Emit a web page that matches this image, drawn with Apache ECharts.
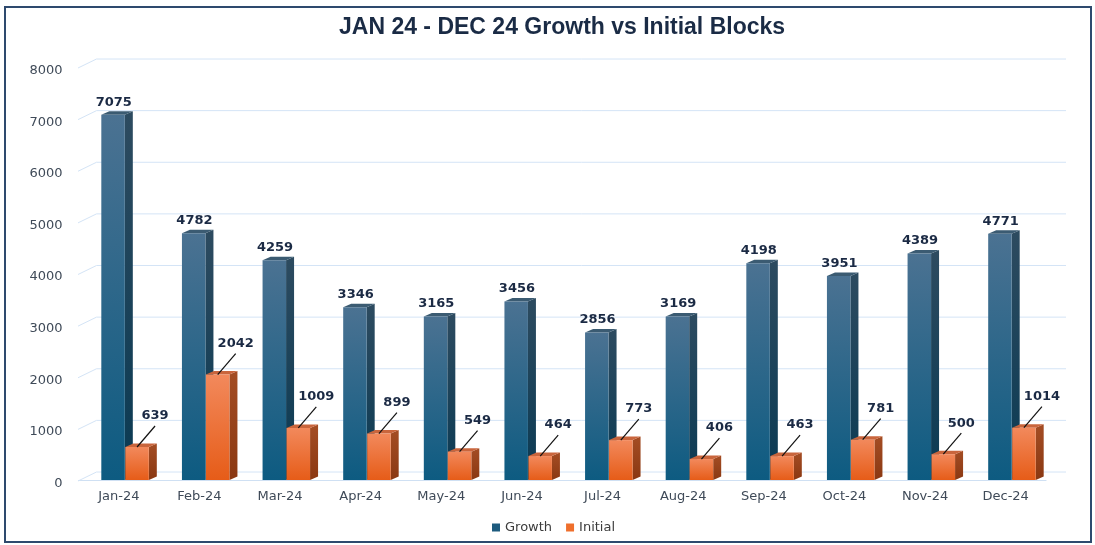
<!DOCTYPE html>
<html>
<head>
<meta charset="utf-8">
<script src="https://cdn.jsdelivr.net/npm/echarts@6/dist/echarts.min.js"></script>
<style>
  html, body { margin: 0; padding: 0; background: #fff; }
  #chart { width: 1095px; height: 545px; }
</style>
</head>
<body>
<div id="chart"></div>
<script>
// values
const months = ['Jan-24', 'Feb-24', 'Mar-24', 'Apr-24', 'May-24', 'Jun-24',
                'Jul-24', 'Aug-24', 'Sep-24', 'Oct-24', 'Nov-24', 'Dec-24'];
const growth = [7075, 4782, 4259, 3346, 3165, 3456, 2856, 3169, 4198, 3951, 4389, 4771];
const initial = [639, 2042, 1009, 899, 549, 464, 773, 406, 463, 781, 500, 1014];
const yTicks = [0, 1000, 2000, 3000, 4000, 5000, 6000, 7000, 8000];

const BAR_W = 23.5;
const DEPTH_X = 8;
const DEPTH_Y = 3.5;

const faces = {
  growth: {
    front: ['#4b7292', '#0d5b81'],
    side: ['#2d4b60', '#0a3a53'],
    top: '#3b5b72'
  },
  initial: {
    front: ['#f2895c', '#e65c18'],
    side: ['#a44d24', '#8a3812'],
    top: '#c9653c'
  }
};

function grad(c) {
  return {
    type: 'linear', x: 0, y: 0, x2: 0, y2: 1,
    colorStops: [{ offset: 0, color: c[0] }, { offset: 1, color: c[1] }]
  };
}

// back wall grid lines with the little slanted bit at the left
function renderGrid(params, api) {
  const cs = params.coordSys;
  const y = api.coord([0, api.value(1)])[1];
  const L = cs.x, R = cs.x + cs.width;
  return {
    type: 'polyline',
    shape: { points: [[L - 0.5, y + 1], [L + 18, y - 8], [R + 20, y - 8]] },
    style: { stroke: '#d4e4f6', lineWidth: 1, fill: null },
    silent: true
  };
}

function makeBar(kind) {
  return function (params, api) {
    const i = api.value(0), v = api.value(1);
    const top = api.coord([i, v]);
    const base = api.coord([i, 0]);
    const cx = top[0];
    const x0 = kind === 'growth' ? cx - 17.5 : cx + 6.5;
    const x1 = x0 + BAR_W;
    const yt = top[1], yb = base[1];
    const f = faces[kind];
    const kids = [
      {
        type: 'polygon',
        shape: { points: [[x1, yt], [x1 + DEPTH_X, yt - DEPTH_Y], [x1 + DEPTH_X, yb - DEPTH_Y], [x1, yb]] },
        style: { fill: grad(f.side) }
      },
      {
        type: 'polygon',
        shape: { points: [[x0, yt], [x0 + DEPTH_X, yt - DEPTH_Y], [x1 + DEPTH_X, yt - DEPTH_Y], [x1, yt]] },
        style: { fill: f.top }
      },
      {
        type: 'rect',
        shape: { x: x0, y: yt, width: BAR_W, height: yb - yt },
        style: { fill: grad(f.front) }
      }
    ];
    if (kind === 'growth') {
      kids.push({
        type: 'text',
        style: {
          text: String(v), x: cx - 5, y: yt - 12.5,
          align: 'center', verticalAlign: 'middle',
          font: 'bold 13px "DejaVu Sans"', fill: '#1b2a44'
        }
      });
    } else {
      const sx = x0 + BAR_W / 2;
      kids.push({
        type: 'line',
        shape: { x1: sx, y1: yt, x2: sx + 18, y2: yt - 21 },
        style: { stroke: '#111', lineWidth: 1.2 }
      });
      kids.push({
        type: 'text',
        style: {
          text: String(v), x: sx + 18, y: yt - 31,
          align: 'center', verticalAlign: 'middle',
          font: 'bold 13px "DejaVu Sans"', fill: '#1b2a44'
        }
      });
    }
    return { type: 'group', children: kids };
  };
}

const chart = echarts.init(document.getElementById('chart'));

chart.setOption({
  backgroundColor: '#fff',
  animation: false,
  title: {
    text: 'JAN 24 - DEC 24 Growth vs Initial Blocks',
    left: 334,
    top: 11,
    textStyle: {
      fontFamily: '"Liberation Sans", Arial, sans-serif',
      fontWeight: 'bold',
      fontSize: 23,
      color: '#1a2b45'
    }
  },
  legend: {
    data: ['Growth', 'Initial'],
    left: 487,
    top: 516,
    icon: 'rect',
    itemWidth: 8,
    itemHeight: 8,
    itemGap: 14,
    textStyle: { fontFamily: 'DejaVu Sans', fontSize: 13, color: '#3c3c3c' }
  },
  graphic: [{
    type: 'rect',
    shape: { x: 5, y: 7, width: 1086, height: 535 },
    style: { fill: null, stroke: '#2e4a6e', lineWidth: 2 },
    silent: true
  }],
  grid: { left: 78.5, right: 49, top: 67, bottom: 65 },
  xAxis: {
    type: 'category',
    data: months,
    axisLine: { lineStyle: { color: '#cfe0f3', width: 1.2 } },
    axisTick: { length: 4, lineStyle: { color: '#cfe0f3' } },
    axisLabel: {
      color: '#3f4a58', fontSize: 13, fontFamily: 'DejaVu Sans', margin: 10
    }
  },
  yAxis: {
    type: 'value',
    min: 0,
    max: 8000,
    interval: 1000,
    axisLine: { show: false },
    axisTick: { show: false },
    splitLine: { show: false },
    axisLabel: {
      color: '#3f4a58', fontSize: 13, fontFamily: 'DejaVu Sans',
      margin: 16, verticalAlign: 'top', lineHeight: 7,
      formatter: v => String(v)
    }
  },
  series: [
    {
      type: 'custom',
      silent: true,
      renderItem: renderGrid,
      data: yTicks.map(v => [0, v]),
      z: 1
    },
    {
      name: 'Growth',
      type: 'custom',
      renderItem: makeBar('growth'),
      itemStyle: { color: '#1d5b7e' },
      data: growth.map((v, i) => [i, v]),
      z: 2
    },
    {
      name: 'Initial',
      type: 'custom',
      renderItem: makeBar('initial'),
      itemStyle: { color: '#ef6f2c' },
      data: initial.map((v, i) => [i, v]),
      z: 3
    }
  ]
});
</script>
</body>
</html>
